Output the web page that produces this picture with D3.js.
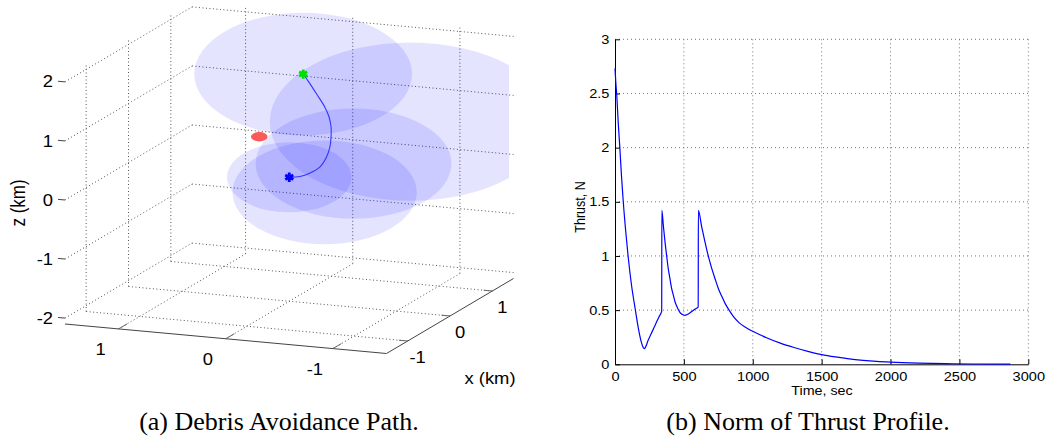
<!DOCTYPE html>
<html>
<head>
<meta charset="utf-8">
<script src="https://cdn.jsdelivr.net/npm/d3@7"></script>
<style>
  body { margin: 0; background: #fff; }
  svg { display: block; }
  text { font-family: "Liberation Sans", Arial, Helvetica, sans-serif; fill: #000; }
  .cap { font-family: "Liberation Serif", "Times New Roman", serif; }
</style>
</head>
<body>
<svg id="fig" width="1047" height="445"></svg>
<script>
// ---------- (a) Debris avoidance path: 3-D view ----------
const xTicks3 = [-1, 0, 1];          // x (km), receding axis
const yTicks3 = [1, 0, -1];          // y (km), front axis
const zTicks3 = [-2, -1, 0, 1, 2];   // z (km)
const xLim3 = [-1.5, 1.5];
const yLim3 = [-1.5, 1.5];
const zLim3 = [-2.1, 2.1];

// keep-out spheres: centre (km) and radius (km)
const sphereX = [0, 0, 0, 0, 0];
const sphereY = [-0.13, -1.13, -0.60, 0.00, -0.33];
const sphereZ = [1.77, 1.13, 0.33, 0.00, -0.20];
const sphereR = [0.945, 1.22, 0.85, 0.54, 0.80];

// debris object
const debrisXYZ = [0, 0.28, 0.64];
const debrisR = 0.072;

// avoidance trajectory (start -> end)
const pathX = [0, 0, 0, 0, 0, 0, 0, 0, 0, 0, 0, 0, 0];
const pathY = [-0.13, -0.18, -0.26, -0.33, -0.37, -0.39, -0.39, -0.38, -0.35, -0.29, -0.19, -0.10, 0.00];
const pathZ = [1.77, 1.65, 1.44, 1.25, 1.09, 0.92, 0.75, 0.58, 0.41, 0.23, 0.10, 0.03, 0.00];

// ---------- (b) Norm of thrust profile ----------
const timeSec = [0, 6, 12, 23, 35, 47, 60, 77, 95, 120, 148, 170, 190, 205, 213, 222, 240, 260, 280, 300, 320, 339,
  340, 351, 363, 375, 387, 399, 411, 423, 435, 447, 459, 471, 483, 495, 507, 520, 532, 550, 568, 586, 604,
  605, 629, 653, 677, 701, 726, 750, 774, 800, 828, 860, 900, 950, 1000, 1100, 1200, 1300, 1400, 1500,
  1600, 1700, 1800, 1900, 2000, 2200, 2400, 2600, 2870];
const thrustN = [2.73, 2.6, 2.5, 2.24, 2.0, 1.74, 1.5, 1.24, 1.0, 0.73, 0.5, 0.33, 0.21, 0.155, 0.145, 0.16, 0.22, 0.275, 0.33, 0.385, 0.44, 0.49,
  1.42, 1.28, 1.13, 1.0, 0.88, 0.79, 0.70, 0.64, 0.58, 0.54, 0.505, 0.48, 0.465, 0.457, 0.452, 0.457, 0.465, 0.48, 0.497, 0.513, 0.53,
  1.42, 1.27, 1.13, 1.0, 0.89, 0.79, 0.70, 0.63, 0.56, 0.50, 0.44, 0.385, 0.34, 0.305, 0.245, 0.195, 0.155, 0.12, 0.09,
  0.068, 0.05, 0.037, 0.027, 0.02, 0.011, 0.006, 0.003, 0.001];
const timeTicks = [0, 500, 1000, 1500, 2000, 2500, 3000];
const thrustTicks = [0, 0.5, 1, 1.5, 2, 2.5, 3];

const svg = d3.select("#fig");

function addText(g, str, x, y, o = {}) {
  const size = o.size || 16, sx = o.sx || 1, rot = o.rotate || 0;
  const scale = rot ? `scale(1,${sx})` : `scale(${sx},1)`;
  return g.append("text")
    .attr("transform", `translate(${x},${y}) rotate(${rot}) ${scale}`)
    .attr("text-anchor", o.anchor || "middle")
    .attr("dominant-baseline", o.baseline || "auto")
    .attr("font-size", size)
    .attr("class", o.cls || null)
    .text(str);
}

// ================= 3-D panel =================
const g3 = svg.append("g");
const fx = d3.scaleLinear().domain(xLim3).range([0, 1]);
const fy = d3.scaleLinear().domain([yLim3[1], yLim3[0]]).range([0, 1]);
const fz = d3.scaleLinear().domain(zLim3).range([0, 1]);
const corner = [65, 324], vFront = [321.5, 29.5], vBack = [127, -75], vUp = [0, -248];
function proj(x, y, z) {
  const a = fy(y), b = fx(x), c = fz(z);
  return [corner[0] + a * vFront[0] + b * vBack[0] + c * vUp[0],
          corner[1] + a * vFront[1] + b * vBack[1] + c * vUp[1]];
}
const seg = d3.line();

// grid segments on the back wall, left wall and floor
const gridSegs = [];
const [x0, x1] = xLim3, [y0, y1] = yLim3, [z0, z1] = zLim3;
yTicks3.forEach(y => gridSegs.push([[x1, y, z0], [x1, y, z1]]));
zTicks3.forEach(z => gridSegs.push([[x1, y1, z], [x1, y0, z]]));
xTicks3.forEach(x => gridSegs.push([[x, y1, z0], [x, y1, z1]]));
zTicks3.forEach(z => gridSegs.push([[x0, y1, z], [x1, y1, z]]));
yTicks3.forEach(y => gridSegs.push([[x0, y, z0], [x1, y, z0]]));
xTicks3.forEach(x => gridSegs.push([[x, y1, z0], [x, y0, z0]]));

g3.append("g").selectAll("path").data(gridSegs).join("path")
  .attr("d", s => seg(s.map(p => proj(...p))))
  .attr("fill", "none").attr("stroke", "#555").attr("stroke-width", 1)
  .attr("stroke-dasharray", "1,2.5");

// axis lines (front y-axis and receding x-axis)
g3.append("path").attr("d", seg([proj(x0, y1, z0), proj(x0, y0, z0), proj(x1, y0, z0)]))
  .attr("fill", "none").attr("stroke", "#444").attr("stroke-width", 1);
// tick marks
g3.append("g").selectAll("path").data(yTicks3).join("path")
  .attr("d", y => seg([proj(x0, y, z0), proj(x0 + 0.2, y, z0)]))
  .attr("stroke", "#666").attr("stroke-width", 1);
g3.append("g").selectAll("path").data(xTicks3).join("path")
  .attr("d", x => seg([proj(x, y0, z0), proj(x, y0 + 0.08, z0)]))
  .attr("stroke", "#666").attr("stroke-width", 1);
g3.append("g").selectAll("path").data(zTicks3).join("path")
  .attr("d", z => seg([proj(x0, y1, z), proj(x0, y1 + 0.065, z)]))
  .attr("stroke", "#444").attr("stroke-width", 1);

// tick labels
yTicks3.forEach(y => { const p = proj(x0, y, z0); addText(g3, String(y), p[0] - 18, p[1] + 26, { size: 16, sx: 1.15 }); });
xTicks3.forEach(x => { const p = proj(x, y0, z0); addText(g3, String(x), p[0] + 10, p[1] + 22, { size: 16, sx: 1.15 }); });
zTicks3.forEach(z => { const p = proj(x0, y1, z); addText(g3, String(z), p[0] - 12, p[1], { size: 16, sx: 1.15, anchor: "end", baseline: "central" }); });
addText(g3, "x (km)", 490, 384, { size: 16, sx: 1.15 });
addText(g3, "z (km)", 18, 203, { size: 17, sx: 1.15, rotate: -90, baseline: "central" });

// spheres, projected as ellipses
const o3 = proj(0, 0, 0);
const ex = proj(1, 0, 0), ey = proj(0, 1, 0), ez = proj(0, 0, 1);
const J = [[ex[0] - o3[0], ey[0] - o3[0], ez[0] - o3[0]], [ex[1] - o3[1], ey[1] - o3[1], ez[1] - o3[1]]];
const Sa = d3.sum(J[0], v => v * v), Sc = d3.sum(J[1], v => v * v), Sb = J[0][0] * J[1][0] + J[0][1] * J[1][1] + J[0][2] * J[1][2];
const mid = (Sa + Sc) / 2, dev = Math.sqrt(((Sa - Sc) / 2) ** 2 + Sb * Sb);
const ax1 = Math.sqrt(mid + dev), ax2 = Math.sqrt(mid - dev);
const ang = 0.5 * Math.atan2(2 * Sb, Sa - Sc) * 180 / Math.PI;

svg.append("defs").append("clipPath").attr("id", "clip3").append("rect")
  .attr("x", 0).attr("y", 0).attr("width", 509).attr("height", 445);

const spheres = sphereR.map((r, i) => ({ c: proj(sphereX[i], sphereY[i], sphereZ[i]), r }));
g3.append("g").attr("clip-path", "url(#clip3)").selectAll("ellipse").data(spheres).join("ellipse")
  .attr("transform", d => `translate(${d.c[0]},${d.c[1]}) rotate(${ang})`)
  .attr("rx", d => d.r * ax1).attr("ry", d => d.r * ax2)
  .attr("fill", "#0000ff").attr("fill-opacity", 0.105);

// debris
const dc = proj(...debrisXYZ);
g3.append("ellipse").attr("transform", `translate(${dc[0]},${dc[1]}) rotate(${ang})`)
  .attr("rx", debrisR * ax1).attr("ry", debrisR * ax2).attr("fill", "#fa5a5a");

// trajectory
const pts = pathX.map((x, i) => proj(x, pathY[i], pathZ[i]));
g3.append("path").attr("d", d3.line().curve(d3.curveCatmullRom)(pts))
  .attr("fill", "none").attr("stroke", "#3333ff").attr("stroke-width", 1.1);

// start / end markers
const star = d3.symbolAsterisk || d3.symbolCross;
const sp = pts[0], ep = pts[pts.length - 1];
[[sp, "#00dd00"], [ep, "#0000ff"]].forEach(([p, col]) => {
  g3.append("path").attr("transform", `translate(${p[0]},${p[1]})`)
    .attr("d", d3.symbol(star, 60)())
    .attr("fill", col).attr("stroke", col).attr("stroke-width", 2.8);
});

// ================= thrust panel =================
const g2 = svg.append("g");
const xS = d3.scaleLinear().domain([0, 3000]).range([615, 1028.3]);
const yS = d3.scaleLinear().domain([0, 3]).range([364.3, 39.3]);

// dotted grid
g2.append("g").selectAll("line").data(timeTicks.slice(1)).join("line")
  .attr("x1", d => xS(d)).attr("x2", d => xS(d)).attr("y1", yS(0)).attr("y2", yS(3))
  .attr("stroke", "#777").attr("stroke-dasharray", "1,3");
g2.append("g").selectAll("line").data(thrustTicks.slice(1)).join("line")
  .attr("x1", xS(0)).attr("x2", xS(3000)).attr("y1", d => yS(d)).attr("y2", d => yS(d))
  .attr("stroke", "#777").attr("stroke-dasharray", "1,3");

const axB = g2.append("g").attr("transform", `translate(0,${yS(0)})`)
  .call(d3.axisBottom(xS).tickValues(timeTicks).tickFormat(d3.format("d")).tickSizeInner(-5).tickSizeOuter(0).tickPadding(7));
const axL = g2.append("g").attr("transform", `translate(${xS(0)},0)`)
  .call(d3.axisLeft(yS).tickValues(thrustTicks).tickFormat(d => String(d)).tickSizeInner(-5).tickSizeOuter(0).tickPadding(5));
[axB, axL].forEach(a => {
  a.select(".domain").attr("stroke", "#000");
  a.selectAll(".tick line").attr("stroke", "#000");
  a.selectAll("text").attr("font-size", 13).attr("font-family", null).attr("fill", "#000")
    .attr("transform", "scale(1.12,1)");
  a.attr("font-family", null);
});

g2.append("path")
  .attr("d", d3.line().x((d, i) => xS(timeSec[i])).y(d => yS(d)).curve(d3.curveMonotoneX)(thrustN))
  .attr("fill", "none").attr("stroke", "#0000ff").attr("stroke-width", 1.2);

addText(g2, "Time, sec", 822, 395, { size: 13, sx: 1.1 });
addText(g2, "Thrust, N", 580, 207, { size: 12.5, sx: 1.12, rotate: -90, baseline: "central" });

// ================= captions =================
addText(svg, "(a) Debris Avoidance Path.", 279, 430, { size: 26, cls: "cap" });
addText(svg, "(b) Norm of Thrust Profile.", 808, 430, { size: 26, cls: "cap" });
</script>
</body>
</html>
